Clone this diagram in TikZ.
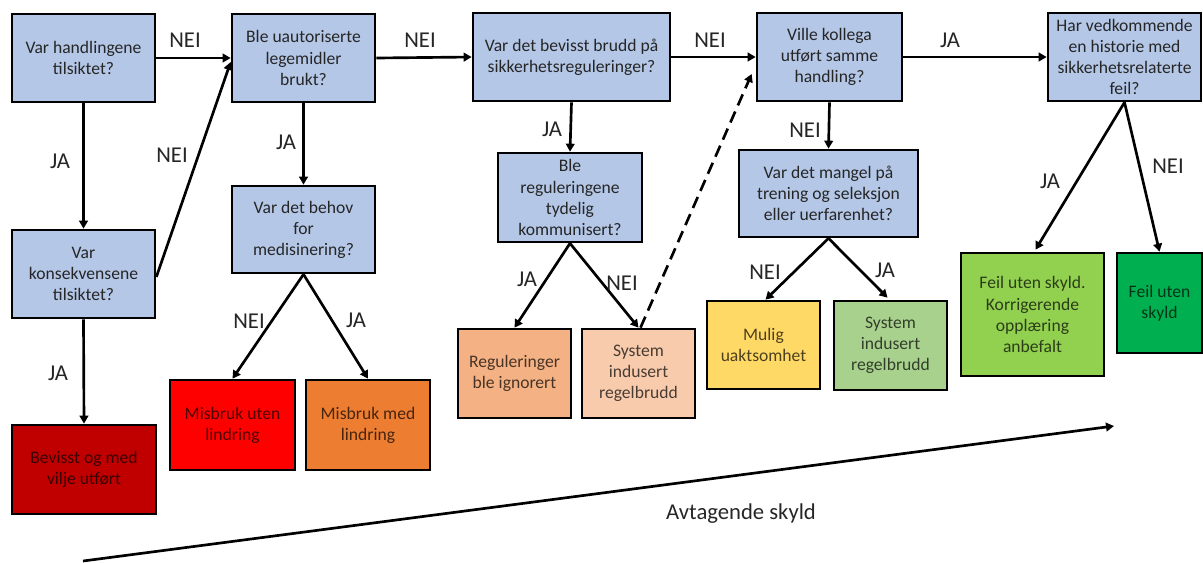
\documentclass[tikz,border=0pt]{standalone}
\usepackage{fontspec}
\setmainfont{Carlito}
\usetikzlibrary{arrows.meta,calc}
\definecolor{qblue}{HTML}{B4C7E7}
\definecolor{cdred}{HTML}{C00000}
\definecolor{cred}{HTML}{FF0000}
\definecolor{corange}{HTML}{ED7D31}
\definecolor{clorange}{HTML}{F4B183}
\definecolor{cpeach}{HTML}{F8CBAD}
\definecolor{cyellow}{HTML}{FFD966}
\definecolor{clgreen}{HTML}{A9D18E}
\definecolor{cgreen}{HTML}{92D050}
\definecolor{cdgreen}{HTML}{00B050}
\begin{document}
\begin{tikzpicture}[x=0.75pt,y=-0.75pt,
  qbox/.style={draw=black, line width=2pt, align=center, font=\fontsize{13.2}{15.8}\selectfont, text=black!85, inner sep=2pt, fill=qblue},
  obox/.style={qbox, text opacity=0.7, text=black},
  sz/.style 2 args={minimum width=#1*0.75pt, minimum height=#2*0.75pt},
  arr/.style={line width=2pt, -{Triangle[length=6pt,width=6.5pt]}},
  lab/.style={font=\fontsize{17}{20}\selectfont, text=black!85}]
\useasboundingbox (0,0) rectangle (1203,562);
% question boxes
\node[qbox, sz={143}{88}] (b1) at (83.5,58) {Var handlingene\\tilsiktet?};
\node[qbox, sz={143}{88}] (b2) at (83.5,274) {Var\\konsekvensene\\tilsiktet?};
\node[qbox, sz={143}{88}] (b3) at (303.5,58) {Ble uautoriserte\\legemidler\\brukt?};
\node[qbox, sz={143}{87}] (b4) at (303.5,229.5) {Var det behov\\for\\medisinering?};
\node[qbox, sz={197}{88}] (b5) at (571.5,57) {Var det bevisst brudd på\\sikkerhetsreguleringer?};
\node[qbox, sz={144}{89}] (b6) at (570,197.5) {Ble\\reguleringene\\tydelig\\kommunisert?};
\node[qbox, sz={145}{88}] (b7) at (829.5,57) {Ville kollega\\utført samme\\handling?};
\node[qbox, sz={179}{87}] (b8) at (828.5,193.5) {Var det mangel på\\trening og seleksjon\\eller uerfarenhet?};
\node[qbox, sz={153}{88}] (b9) at (1124.5,57) {Har vedkommende\\en historie med\\sikkerhetsrelaterte\\feil?};
% outcome boxes
\node[obox, sz={144}{89}, fill=cdred] (r1) at (84,469.5) {Bevisst og med\\vilje utført};
\node[obox, sz={125}{90}, fill=cred] (r2) at (232.5,425) {Misbruk uten\\lindring};
\node[obox, sz={124}{90}, fill=corange] (o1) at (368,425) {Misbruk med\\lindring};
\node[obox, sz={113}{89}, fill=clorange] (o2) at (514.5,373.5) {Reguleringer\\ble ignorert};
\node[obox, sz={113}{89}, fill=cpeach] (o3) at (638.5,373.5) {System\\indusert\\regelbrudd};
\node[obox, sz={113}{88}, fill=cyellow] (y1) at (763.5,345) {Mulig\\uaktsomhet};
\node[obox, sz={113}{89}, fill=clgreen] (g1) at (890.5,345.5) {System\\indusert\\regelbrudd};
\node[obox, sz={143}{123}, fill=cgreen] (g2) at (1032.5,314.5) {Feil uten skyld.\\Korrigerende\\opplæring\\anbefalt};
\node[obox, sz={85}{100}, fill=cdgreen] (g3) at (1159.5,303) {Feil uten\\skyld};
% connectors
\draw[arr] (b1.east) -- (b3.west);
\draw[arr] (b1.south) -- (b2.north);
\draw[arr] ($(b2.east)+(0,3)$) -- ($(b3.west)+(0,4)$);
\draw[arr] (b2.south) -- (r1.north);
\draw[arr] (b3.south) -- (b4.north);
\draw[arr] (b4.south) -- (r2.north);
\draw[arr] (b4.south) -- (o1.north);
\draw[arr] (b3.east) -- (b5.west);
\draw[arr] (b5.south) -- (b6.north);
\draw[arr] (b5.east) -- (b7.west);
\draw[arr] (b6.south) -- (o2.north);
\draw[arr] (b6.south) -- (o3.north);
\coordinate (dstart) at ($(o3.north)+(2,0)$);
\coordinate (dend) at ($(b7.west)+(-4,17)$);
\draw[arr, dash pattern=on 9pt off 5pt] (dstart) -- (dend);
\draw[arr] (b7.east) -- (b9.west);
\draw[arr] (b7.south) -- (b8.north);
\draw[arr] (b8.south) -- ($(y1.north)+(2,0)$);
\draw[arr] (b8.south) -- ($(g1.north)+(-3,-2)$);
\draw[arr] (b9.south) -- ($(g2.north)+(3,-2)$);
\draw[arr] (b9.south) -- (g3.north);
% labels
\node[lab] (l1) at (185,40) {NEI};
\node[lab] (l2) at (60,161) {JA};
\node[lab] (l3) at (172,155) {NEI};
\node[lab] (l4) at (58,373) {JA};
\node[lab] (l5) at (286,142) {JA};
\node[lab] (l6) at (249,321) {NEI};
\node[lab] (l7) at (356,320) {JA};
\node[lab] (l8) at (420,40) {NEI};
\node[lab] (l9) at (552,129) {JA};
\node[lab] (l10) at (710,40) {NEI};
\node[lab] (l11) at (527,279) {JA};
\node[lab] (l12) at (622,283) {NEI};
\node[lab] (l13) at (950,40) {JA};
\node[lab] (l14) at (805,130) {NEI};
\node[lab] (l15) at (765,272) {NEI};
\node[lab] (l16) at (885,270) {JA};
\node[lab] (l17) at (1050,181) {JA};
\node[lab] (l18) at (1168,166) {NEI};
% blame axis
\coordinate (ax0) at (83,561);
\coordinate (ax1) at (1114,426);
\draw[arr] (ax0) -- (ax1);
\node[lab, font=\fontsize{17}{20}\selectfont] (axl) at (741,514) {Avtagende skyld};
\end{tikzpicture}
\end{document}
